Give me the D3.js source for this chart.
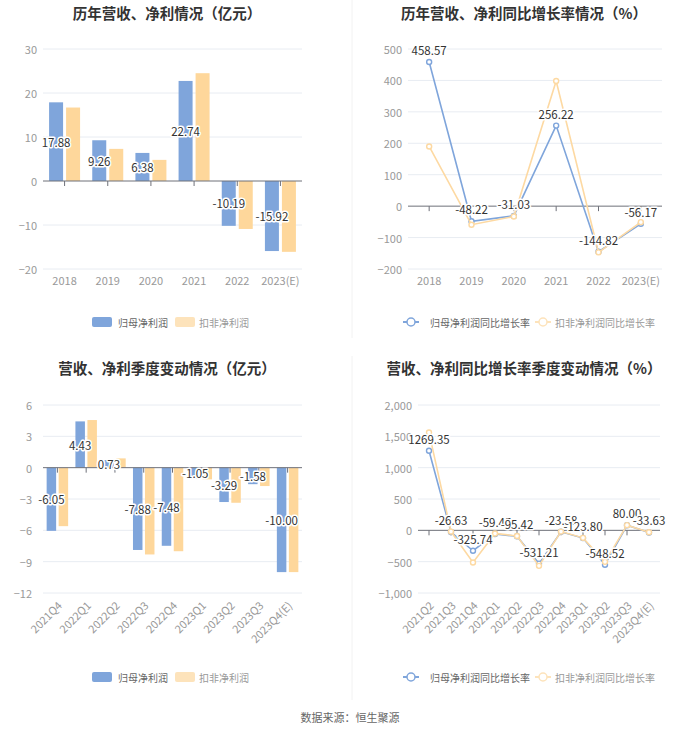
<!DOCTYPE html>
<html><head><meta charset="utf-8">
<script src="https://cdn.jsdelivr.net/npm/d3@7"></script>
<style>
body{margin:0;background:#fff;}
svg{display:block;font-family:"Noto Sans CJK SC","Noto Sans",sans-serif;}
</style></head>
<body>
<svg id="chart" width="700" height="734"></svg>
<script>
// ---- data ----
const years = ["2018","2019","2020","2021","2022","2023(E)"];
const annualParent = [17.88, 9.26, 6.38, 22.74, -10.19, -15.92];
const annualDeducted = [16.7, 7.3, 4.8, 24.5, -10.9, -16.1];
const annualTicks = [30, 20, 10, 0, -10, -20];

const annualParentGrowth = [458.57, -48.22, -31.03, 256.22, -144.82, -56.17];
const annualDeductedGrowth = [190, -59, -33, 398, -147, -51];
const annualGrowthTicks = [500, 400, 300, 200, 100, 0, -100, -200];

const quarters = ["2021Q4","2022Q1","2022Q2","2022Q3","2022Q4","2023Q1","2023Q2","2023Q3","2023Q4(E)"];
const quarterParent = [-6.05, 4.43, 0.73, -7.88, -7.48, -1.05, -3.29, -1.58, -10.00];
const quarterDeducted = [-5.6, 4.56, 0.89, -8.31, -8.0, -1.12, -3.36, -1.76, -10.0];
const quarterTicks = [6, 3, 0, -3, -6, -9, -12];

const growthQuarters = ["2021Q2","2021Q3","2021Q4","2022Q1","2022Q2","2022Q3","2022Q4","2023Q1","2023Q2","2023Q3","2023Q4(E)"];
const quarterParentGrowth = [1269.35, -26.63, -325.74, -59.45, -95.42, -531.21, -23.58, -123.80, -548.52, 80.00, -33.63];
const quarterDeductedGrowth = [1560, -20, -513, -50, -90, -567, -20, -120, -503, 83, -30];
const quarterGrowthTicks = [2000, 1500, 1000, 500, 0, -500, -1000];

const titles = ["历年营收、净利情况（亿元）","历年营收、净利同比增长率情况（%）","营收、净利季度变动情况（亿元）","营收、净利同比增长率季度变动情况（%）"];
const barLegend = ["归母净利润","扣非净利润"];
const lineLegend = ["归母净利润同比增长率","扣非净利润同比增长率"];
const sourceText = "数据来源：恒生聚源";

// ---- styles ----
const BLUE = "#7fa5db", ORANGE = "#fed79b", ORANGE_LINE = "#fdd9a2";
const svg = d3.select("#chart");

// separators
svg.append("line").attr("x1",352).attr("x2",352).attr("y1",0).attr("y2",338).attr("stroke","#f2f2f2");
svg.append("line").attr("x1",352).attr("x2",352).attr("y1",356).attr("y2",700).attr("stroke","#f2f2f2");

function title(t, cx, y){
  svg.append("text").attr("x",cx).attr("y",y).attr("text-anchor","middle").attr("dominant-baseline","central")
    .attr("font-size",14.5).attr("font-weight","bold").attr("fill","#333").text(t);
}
function fmt(v){ return d3.format(",")(v); }

function yAxis(y, ticks, x0, x1, labelRight){
  const g = svg.append("g");
  g.selectAll("line.grid").data(ticks.filter(t=>t!==0)).join("line")
    .attr("x1",x0).attr("x2",x1).attr("y1",d=>y(d)).attr("y2",d=>y(d)).attr("stroke","#e8ecf2");
  g.selectAll("text").data(ticks).join("text")
    .attr("x",labelRight).attr("y",d=>y(d)).attr("text-anchor","end").attr("dominant-baseline","central")
    .attr("font-size",11).attr("fill","#999").text(d=>fmt(d));
}
function zeroAxis(x, y, cats, x0, x1){
  svg.append("line").attr("x1",x0).attr("x2",x1).attr("y1",y(0)).attr("y2",y(0)).attr("stroke","#6e7079");
  svg.selectAll(null).data(cats).join("line")
    .attr("x1",d=>x(d)+x.bandwidth()/2).attr("x2",d=>x(d)+x.bandwidth()/2)
    .attr("y1",y(0)).attr("y2",y(0)+5).attr("stroke","#6e7079");
}
function xLabels(x, cats, yPos, rotate){
  const g = svg.append("g");
  cats.forEach(c=>{
    const cx = x(c)+x.bandwidth()/2;
    const t = g.append("text").attr("font-size",11).attr("fill","#999").text(c);
    if(rotate){
      t.attr("text-anchor","end").attr("dominant-baseline","central")
       .attr("transform",`translate(${cx+2},${yPos}) rotate(-45)`);
    } else {
      t.attr("x",cx).attr("y",yPos).attr("text-anchor","middle").attr("dominant-baseline","central");
    }
  });
}
function dataLabel(x, yv, txt){
  svg.append("text").attr("x",x).attr("y",yv).attr("text-anchor","middle").attr("dominant-baseline","central")
    .attr("font-size",11.5).attr("fill","#333").attr("stroke","#fff").attr("stroke-width",3)
    .attr("paint-order","stroke").attr("stroke-linejoin","round").text(txt);
}

function barPanel(cats, a, b, ticks, x0, x1, yTop, yBot, labelRight, barW, gap, xLabY, rotate){
  const x = d3.scaleBand().domain(cats).range([x0,x1]);
  const y = d3.scaleLinear().domain([ticks[ticks.length-1], ticks[0]]).range([yBot,yTop]);
  yAxis(y, ticks, x0, x1, labelRight);
  const g = svg.append("g");
  const off = (barW*2+gap)/2;
  g.selectAll("rect.a").data(a).join("rect")
    .attr("x",(d,i)=>x(cats[i])+x.bandwidth()/2-off).attr("width",barW)
    .attr("y",d=>Math.min(y(d),y(0))).attr("height",d=>Math.abs(y(d)-y(0))).attr("fill",BLUE);
  g.selectAll("rect.b").data(b).join("rect")
    .attr("x",(d,i)=>x(cats[i])+x.bandwidth()/2-off+barW+gap).attr("width",barW)
    .attr("y",d=>Math.min(y(d),y(0))).attr("height",d=>Math.abs(y(d)-y(0))).attr("fill",ORANGE);
  zeroAxis(x, y, cats, x0, x1);
  xLabels(x, cats, xLabY, rotate);
  a.forEach((d,i)=>{
    dataLabel(x(cats[i])+x.bandwidth()/2-off+barW/2, (y(d)+y(0))/2, d.toFixed(2));
  });
}

function linePanel(cats, a, b, ticks, x0, x1, yTop, yBot, labelRight, xLabY, rotate){
  const x = d3.scaleBand().domain(cats).range([x0,x1]);
  const y = d3.scaleLinear().domain([ticks[ticks.length-1], ticks[0]]).range([yBot,yTop]);
  yAxis(y, ticks, x0, x1, labelRight);
  zeroAxis(x, y, cats, x0, x1);
  xLabels(x, cats, xLabY, rotate);
  const cx = i=>x(cats[i])+x.bandwidth()/2;
  const line = d3.line().x((d,i)=>cx(i)).y(d=>y(d));
  [[a,BLUE],[b,ORANGE_LINE]].forEach(([s,c])=>{
    svg.append("path").datum(s).attr("d",line).attr("fill","none").attr("stroke",c).attr("stroke-width",1.6);
    svg.selectAll(null).data(s).join("circle").attr("cx",(d,i)=>cx(i)).attr("cy",d=>y(d)).attr("r",2.5)
      .attr("fill","#fff").attr("stroke",c).attr("stroke-width",1.4);
  });
  a.forEach((d,i)=>dataLabel(cx(i), y(d)-12, d.toFixed(2)));
}

function barLegendAt(y){
  svg.append("rect").attr("x",92).attr("y",y-5).attr("width",20).attr("height",10).attr("rx",2).attr("fill",BLUE);
  svg.append("text").attr("x",118).attr("y",y).attr("dominant-baseline","central").attr("font-size",10).attr("fill","#666").text(barLegend[0]);
  svg.append("rect").attr("x",175).attr("y",y-5).attr("width",20).attr("height",10).attr("rx",2).attr("fill","#fde3bb");
  svg.append("text").attr("x",199).attr("y",y).attr("dominant-baseline","central").attr("font-size",10).attr("fill","#999").text(barLegend[1]);
}
function lineLegendAt(y){
  [[403,430,BLUE,"#666"],[535,555,"#fde3bb","#999"]].forEach(([lx,tx,c,tc],i)=>{
    svg.append("line").attr("x1",lx).attr("x2",lx+16).attr("y1",y).attr("y2",y).attr("stroke",c).attr("stroke-width",2);
    svg.append("circle").attr("cx",lx+8).attr("cy",y).attr("r",4).attr("fill","#fff").attr("stroke",c).attr("stroke-width",1.5);
    svg.append("text").attr("x",tx).attr("y",y).attr("dominant-baseline","central").attr("font-size",10).attr("fill",tc).text(lineLegend[i]);
  });
}

title(titles[0], 167, 12);
title(titles[1], 524, 12);
title(titles[2], 167, 367);
title(titles[3], 524, 367);

barPanel(years, annualParent, annualDeducted, annualTicks, 43, 302, 49, 269, 37, 14, 3, 280, false);
linePanel(years, annualParentGrowth, annualDeductedGrowth, annualGrowthTicks, 408, 662, 49, 269, 402, 280, false);
barPanel(quarters, quarterParent, quarterDeducted, quarterTicks, 43, 302, 405, 593, 32, 9.5, 2.5, 603, true);
linePanel(growthQuarters, quarterParentGrowth, quarterDeductedGrowth, quarterGrowthTicks, 418, 660, 405, 593, 412, 603, true);

barLegendAt(322);
lineLegendAt(322);
barLegendAt(677);
lineLegendAt(677);

svg.append("text").attr("x",350).attr("y",717).attr("text-anchor","middle").attr("dominant-baseline","central")
  .attr("font-size",11).attr("fill","#666").text(sourceText);
</script>
</body></html>
